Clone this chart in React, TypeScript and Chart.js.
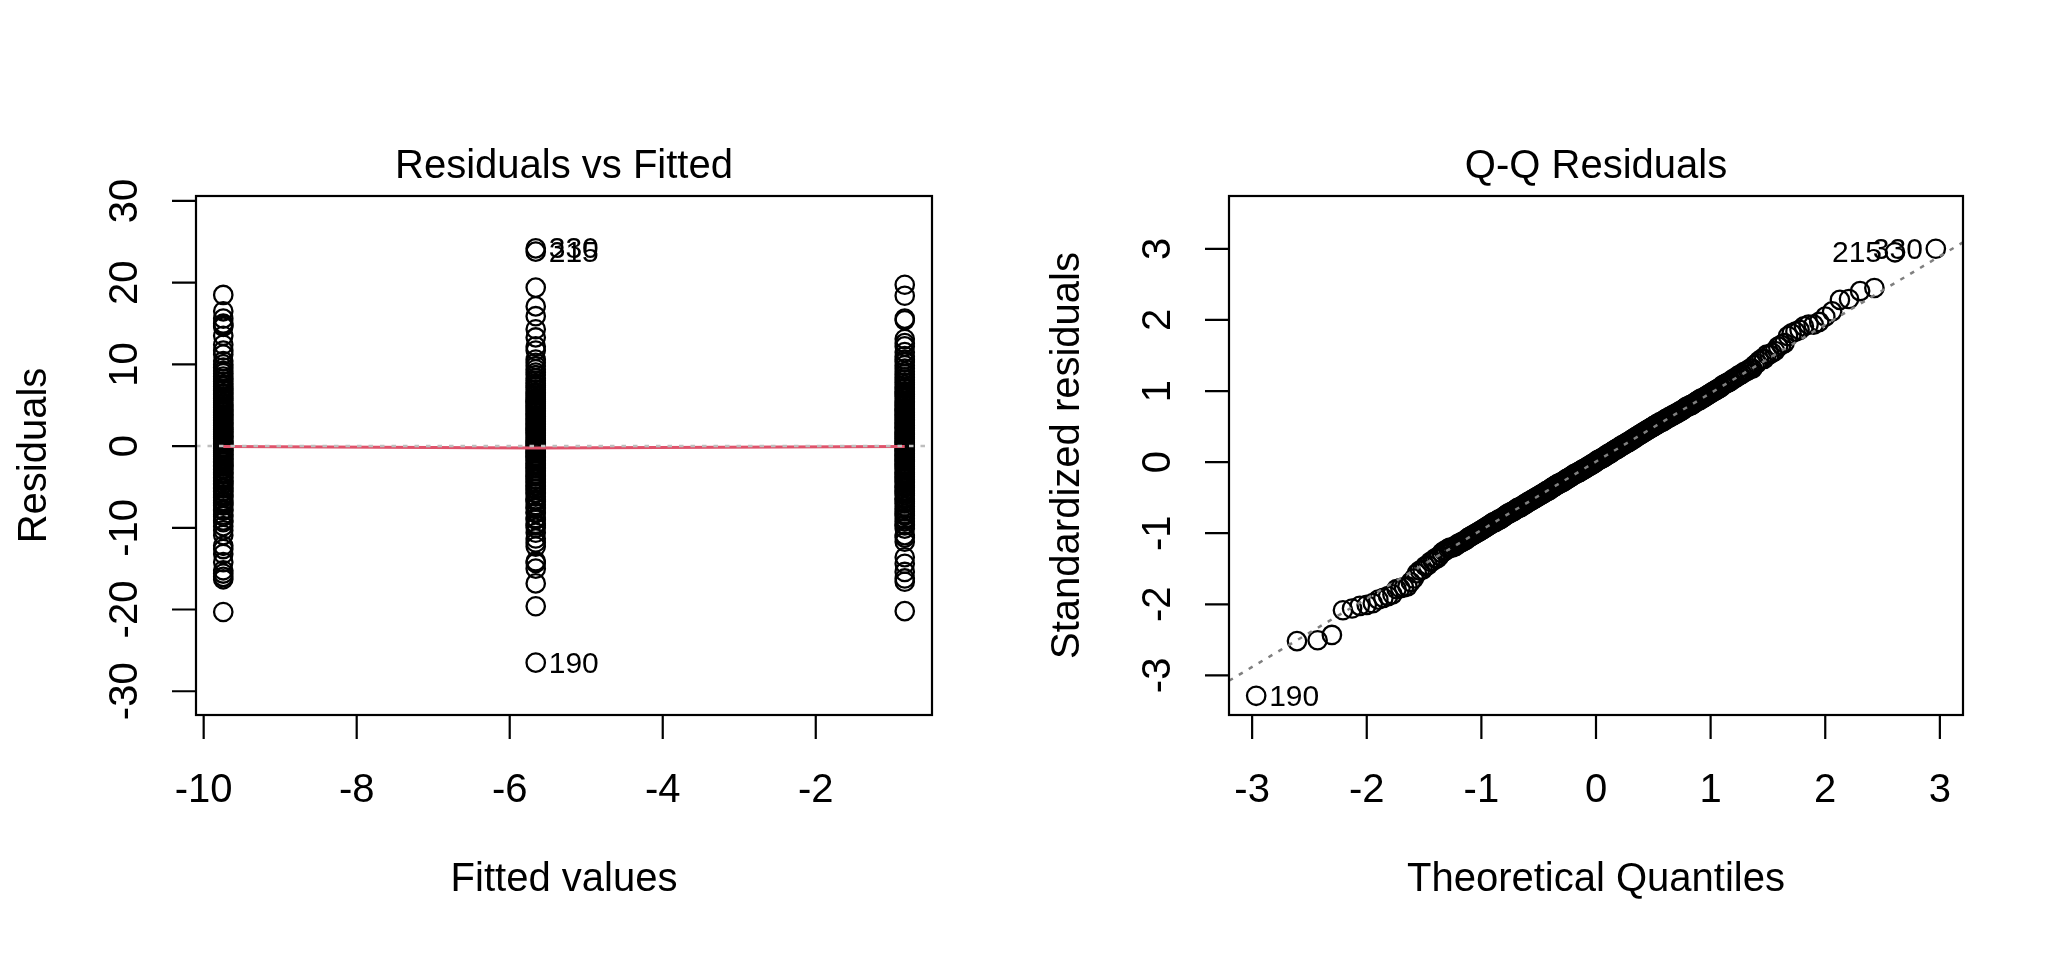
import { useEffect, useRef } from "react";
import { Chart, registerables } from "chart.js";

Chart.register(...registerables);

const FONT = '"Liberation Sans", Arial, Helvetica, sans-serif';

// fitted value of each of the three groups
const fittedLevels = [-9.744, -5.66, -0.837];

const residualsLow = [
  -20.3, -16.3, -16.0, -15.6, -15.2, -14.2, -13.2, -12.6, -12.2, -10.9,
  -10.3, -9.8, -9.3, -9.1, -8.6, -8.4, -7.9, -7.8, -7.3, -7.1, -6.9, -6.7, -6.3, -6.1, -5.9,
  -5.6, -5.5, -5.2, -5.1, -4.7, -4.6, -4.3, -4.2, -3.9, -3.8, -3.5, -3.3, -3.2, -2.9, -2.8,
  -2.5, -2.4, -2.3, -2.0, -1.9, -1.6, -1.5, -1.3, -1.1, -1.0, -0.8, -0.6, -0.5, -0.3, -0.1,
  0.2, 0.3, 0.5, 0.7, 0.9, 1.1, 1.2, 1.4, 1.6, 1.8, 2.0, 2.1, 2.3, 2.5, 2.7,
  2.9, 3.1, 3.3, 3.5, 3.7, 3.9, 4.1, 4.3, 4.5, 4.7, 4.9, 5.1, 5.3, 5.6, 5.8,
  6.0, 6.3, 6.5, 6.8, 7.0, 7.3, 7.6, 7.9, 8.2, 8.5, 8.9, 9.2, 9.6, 10.0, 10.4,
  11.2, 11.7, 12.4, 13.5, 14.6, 14.8, 15.0, 15.6, 16.5, 18.5,
];

const residualsMid = [
  -26.5, -19.6, -16.8, -15.0, -14.3, -14.1, -12.3, -11.8, -11.3, -10.6,
  -10.0, -9.7, -9.5, -9.0, -8.8, -8.2, -8.1, -7.6, -7.5, -7.2, -6.8, -6.6, -6.5, -6.2, -5.8,
  -5.7, -5.3, -5.2, -4.9, -4.8, -4.5, -4.4, -4.1, -4.0, -3.7, -3.6, -3.4, -3.1, -3.0, -2.7,
  -2.6, -2.4, -2.2, -2.1, -1.8, -1.7, -1.4, -1.3, -1.2, -0.9, -0.8, -0.7, -0.4, -0.2, -0.1,
  0.1, 0.3, 0.4, 0.6, 0.8, 1.0, 1.3, 1.5, 1.7, 1.9, 2.0, 2.2, 2.4, 2.6, 2.8,
  3.0, 3.2, 3.4, 3.6, 3.8, 4.0, 4.2, 4.4, 4.6, 4.8, 5.0, 5.2, 5.4, 5.5, 5.7,
  5.9, 6.2, 6.4, 6.6, 6.9, 7.2, 7.4, 7.7, 8.0, 8.3, 8.7, 9.0, 9.4, 9.8, 10.2,
  10.6, 11.7, 12.2, 13.3, 14.3, 15.9, 17.1, 19.4, 23.8, 24.2,
];

const residualsHigh = [
  -20.2, -16.6, -16.2, -15.4, -14.4, -13.6, -11.7, -11.2, -10.9, -9.7,
  -10.1, -9.6, -9.2, -8.9, -8.5, -8.3, -8.0, -7.7, -7.4, -7.0, -6.8, -6.5, -6.4, -6.0, -5.8,
  -5.6, -5.4, -5.1, -5.0, -4.8, -4.5, -4.3, -4.1, -3.9, -3.7, -3.5, -3.3, -3.2, -2.9, -2.7,
  -2.5, -2.3, -2.2, -1.9, -1.8, -1.6, -1.4, -1.2, -1.1, -0.9, -0.7, -0.5, -0.4, -0.2, 0.0,
  0.2, 0.4, 0.5, 0.7, 0.9, 1.0, 1.2, 1.4, 1.5, 1.7, 1.9, 2.2, 2.3, 2.5, 2.7,
  2.9, 3.1, 3.3, 3.5, 3.7, 3.9, 4.1, 4.3, 4.5, 4.6, 4.9, 5.1, 5.3, 5.5, 5.8,
  6.1, 6.3, 6.5, 6.7, 7.0, 7.2, 7.5, 7.8, 8.1, 8.4, 8.8, 9.1, 9.5, 9.9, 10.3,
  10.6, 11.0, 11.5, 12.2, 12.6, 13.1, 15.4, 15.6, 18.4, 19.75,
];

// red lowess smooth at the three fitted values
const smoothValues = [-0.05, -0.22, -0.05];

// observation numbers of the three largest residuals, largest first
const extremeIds = ["190", "330", "215"];

const residTicksX = [-10, -8, -6, -4, -2];
const residTicksY = [-30, -20, -10, 0, 10, 20, 30];
const qqTicksX = [-3, -2, -1, 0, 1, 2, 3];
const qqTicksY = [-3, -2, -1, 0, 1, 2, 3];

// ---- helpers ----
function qnorm(p: number): number {
  const a = [-3.969683028665376e1, 2.209460984245205e2, -2.759285104469687e2, 1.38357751867269e2, -3.066479806614716e1, 2.506628277459239];
  const b = [-5.447609879822406e1, 1.615858368580409e2, -1.556989798598866e2, 6.680131188771972e1, -1.328068155288572e1];
  const c = [-7.784894002430293e-3, -3.223964580411365e-1, -2.400758277161838, -2.549732539343734, 4.374664141464968, 2.938163982698783];
  const d = [7.784695709041462e-3, 3.224671290700398e-1, 2.445134137142996, 3.754408661907416];
  const lo = 0.02425;
  if (p < lo || p > 1 - lo) {
    const q = Math.sqrt(-2 * Math.log(p < lo ? p : 1 - p));
    const v = (((((c[0] * q + c[1]) * q + c[2]) * q + c[3]) * q + c[4]) * q + c[5]) / ((((d[0] * q + d[1]) * q + d[2]) * q + d[3]) * q + 1);
    return p < lo ? v : -v;
  }
  const q = p - 0.5;
  const r = q * q;
  return ((((((a[0] * r + a[1]) * r + a[2]) * r + a[3]) * r + a[4]) * r + a[5]) * q) / (((((b[0] * r + b[1]) * r + b[2]) * r + b[3]) * r + b[4]) * r + 1);
}

function quantile7(sorted: number[], p: number) {
  const h = (sorted.length - 1) * p;
  const i = Math.floor(h);
  return sorted[i] + (h - i) * ((sorted[i + 1] ?? sorted[i]) - sorted[i]);
}

function extend(lo: number, hi: number, f: number): [number, number] {
  const d = (hi - lo) * f;
  return [lo - d, hi + d];
}

type Obs = { fit: number; r: number; std: number; id?: string };

function buildObs(): Obs[] {
  const groups = [residualsLow, residualsMid, residualsHigh];
  const n = groups.reduce((s, g) => s + g.length, 0);
  const rss = groups.reduce((s, g) => s + g.reduce((t, v) => t + v * v, 0), 0);
  const sigma = Math.sqrt(rss / (n - groups.length));
  const obs: Obs[] = [];
  groups.forEach((g, k) => {
    const h = 1 / g.length;
    g.forEach((r) => obs.push({ fit: fittedLevels[k], r, std: r / (sigma * Math.sqrt(1 - h)) }));
  });
  const byAbs = obs.map((o, i) => i).sort((i, j) => Math.abs(obs[j].r) - Math.abs(obs[i].r));
  extremeIds.forEach((id, k) => (obs[byAbs[k]].id = id));
  return obs;
}

type PointLabel = { x: number; y: number; text: string; right: boolean };
type Frame = {
  title: string;
  xLabel: string;
  yLabel: string;
  xTicks: number[];
  yTicks: number[];
  labels: PointLabel[];
};

function framePlugin(frame: Frame) {
  return {
    id: "rFrame",
    afterDraw(chart: any) {
      const { ctx, chartArea: a, scales } = chart;
      const xs = scales.x;
      const ys = scales.y;
      const cx = (a.left + a.right) / 2;
      const cy = (a.top + a.bottom) / 2;
      ctx.save();
      ctx.strokeStyle = "#000";
      ctx.lineWidth = 2.2;
      ctx.strokeRect(a.left, a.top, a.right - a.left, a.bottom - a.top);
      ctx.beginPath();
      frame.xTicks.forEach((t) => {
        const px = xs.getPixelForValue(t);
        ctx.moveTo(px, a.bottom);
        ctx.lineTo(px, a.bottom + 24);
      });
      frame.yTicks.forEach((t) => {
        const py = ys.getPixelForValue(t);
        ctx.moveTo(a.left, py);
        ctx.lineTo(a.left - 24, py);
      });
      ctx.stroke();

      ctx.fillStyle = "#000";
      ctx.font = `40px ${FONT}`;
      ctx.textAlign = "center";
      ctx.textBaseline = "alphabetic";
      frame.xTicks.forEach((t) => {
        ctx.fillText(String(t), xs.getPixelForValue(t), a.bottom + 87);
      });
      frame.yTicks.forEach((t) => {
        ctx.save();
        ctx.translate(a.left - 59, ys.getPixelForValue(t));
        ctx.rotate(-Math.PI / 2);
        ctx.fillText(String(t), 0, 0);
        ctx.restore();
      });
      ctx.fillText(frame.title, cx, a.top - 18);
      ctx.fillText(frame.xLabel, cx, a.bottom + 176);
      ctx.save();
      ctx.translate(a.left - 150, cy);
      ctx.rotate(-Math.PI / 2);
      ctx.fillText(frame.yLabel, 0, 0);
      ctx.restore();

      ctx.font = `30px ${FONT}`;
      frame.labels.forEach((l) => {
        const px = xs.getPixelForValue(l.x);
        const py = ys.getPixelForValue(l.y);
        ctx.textAlign = l.right ? "left" : "right";
        ctx.fillText(l.text, l.right ? px + 13 : px - 13, py + 10);
      });
      ctx.restore();
    },
  };
}

const pointStyle = {
  pointStyle: "circle",
  pointRadius: 9.2,
  pointBorderWidth: 2.3,
  pointBorderColor: "#000",
  pointBackgroundColor: "rgba(0,0,0,0)",
  showLine: false,
};

function baseOptions(xr: [number, number], yr: [number, number], padding: any) {
  return {
    responsive: false,
    animation: false as const,
    events: [],
    layout: { padding },
    plugins: { legend: { display: false }, tooltip: { enabled: false } },
    scales: {
      x: { type: "linear" as const, min: xr[0], max: xr[1], display: false },
      y: { type: "linear" as const, min: yr[0], max: yr[1], display: false },
    },
  };
}

function ResidualsPanel({ obs }: { obs: Obs[] }) {
  const ref = useRef<HTMLCanvasElement | null>(null);
  useEffect(() => {
    if (!ref.current) return;
    const rs = obs.map((o) => o.r);
    const xr = extend(Math.min(...fittedLevels), Math.max(...fittedLevels), 0.04);
    const y0 = extend(Math.min(...rs), Math.max(...rs), 0.08);
    const yr = extend(y0[0], y0[1], 0.04);
    const mid = (Math.min(...fittedLevels) + Math.max(...fittedLevels)) / 2;
    const labels = obs
      .filter((o) => o.id)
      .map((o) => ({ x: o.fit, y: o.r, text: o.id as string, right: o.fit < mid }));
    const chart = new Chart(ref.current, {
      type: "scatter",
      data: {
        datasets: [
          {
            data: [
              { x: xr[0], y: 0 },
              { x: xr[1], y: 0 },
            ],
            showLine: true,
            pointRadius: 0,
            borderColor: "#BEBEBE",
            borderWidth: 2.5,
            borderDash: [4.5, 7],
            order: 0,
          },
          {
            data: fittedLevels.map((f, i) => ({ x: f, y: smoothValues[i] })),
            showLine: true,
            pointRadius: 0,
            borderColor: "#DF536B",
            borderWidth: 3,
            order: 1,
          },
          {
            data: obs.map((o) => ({ x: o.fit, y: o.r })),
            ...pointStyle,
            order: 2,
          } as any,
        ],
      },
      options: baseOptions(xr, yr, { left: 196, right: 100, top: 196, bottom: 245 }) as any,
      plugins: [
        framePlugin({
          title: "Residuals vs Fitted",
          xLabel: "Fitted values",
          yLabel: "Residuals",
          xTicks: residTicksX,
          yTicks: residTicksY,
          labels,
        }),
      ],
    });
    return () => chart.destroy();
  }, [obs]);
  return <canvas ref={ref} width={1032} height={960} style={{ display: "block" }} />;
}

function QQPanel({ obs }: { obs: Obs[] }) {
  const ref = useRef<HTMLCanvasElement | null>(null);
  useEffect(() => {
    if (!ref.current) return;
    const n = obs.length;
    const sorted = [...obs].sort((a, b) => a.std - b.std);
    const pts = sorted.map((o, i) => ({ x: qnorm((i + 0.5) / n), y: o.std, id: o.id }));
    const ys = pts.map((p) => p.y);
    const xr = extend(pts[0].x, pts[n - 1].x, 0.04);
    const ylo = Math.min(...ys);
    let yhi = Math.max(...ys);
    yhi += (yhi - ylo) * 0.075;
    const yr = extend(ylo, yhi, 0.04);
    const q1 = quantile7(ys, 0.25);
    const q3 = quantile7(ys, 0.75);
    const slope = (q3 - q1) / (qnorm(0.75) - qnorm(0.25));
    const icpt = q1 - slope * qnorm(0.25);
    const mid = (pts[0].x + pts[n - 1].x) / 2;
    const labels = pts
      .filter((p) => p.id)
      .map((p) => ({ x: p.x, y: p.y, text: p.id as string, right: p.x < mid }));
    const chart = new Chart(ref.current, {
      type: "scatter",
      data: {
        datasets: [
          {
            data: [
              { x: xr[0], y: icpt + slope * xr[0] },
              { x: xr[1], y: icpt + slope * xr[1] },
            ],
            showLine: true,
            pointRadius: 0,
            borderColor: "#7F7F7F",
            borderWidth: 2.5,
            borderDash: [4.5, 7],
            order: 0,
          },
          {
            data: pts.map((p) => ({ x: p.x, y: p.y })),
            ...pointStyle,
            order: 1,
          } as any,
        ],
      },
      options: baseOptions(xr, yr, { left: 197, right: 101, top: 196, bottom: 245 }) as any,
      plugins: [
        framePlugin({
          title: "Q-Q Residuals",
          xLabel: "Theoretical Quantiles",
          yLabel: "Standardized residuals",
          xTicks: qqTicksX,
          yTicks: qqTicksY,
          labels,
        }),
      ],
    });
    return () => chart.destroy();
  }, [obs]);
  return <canvas ref={ref} width={1032} height={960} style={{ display: "block" }} />;
}

const observations = buildObs();

export default function App() {
  return (
    <div
      style={{
        position: "absolute",
        left: 0,
        top: 0,
        width: 2064,
        height: 960,
        background: "#fff",
        display: "flex",
      }}
    >
      <ResidualsPanel obs={observations} />
      <QQPanel obs={observations} />
    </div>
  );
}
